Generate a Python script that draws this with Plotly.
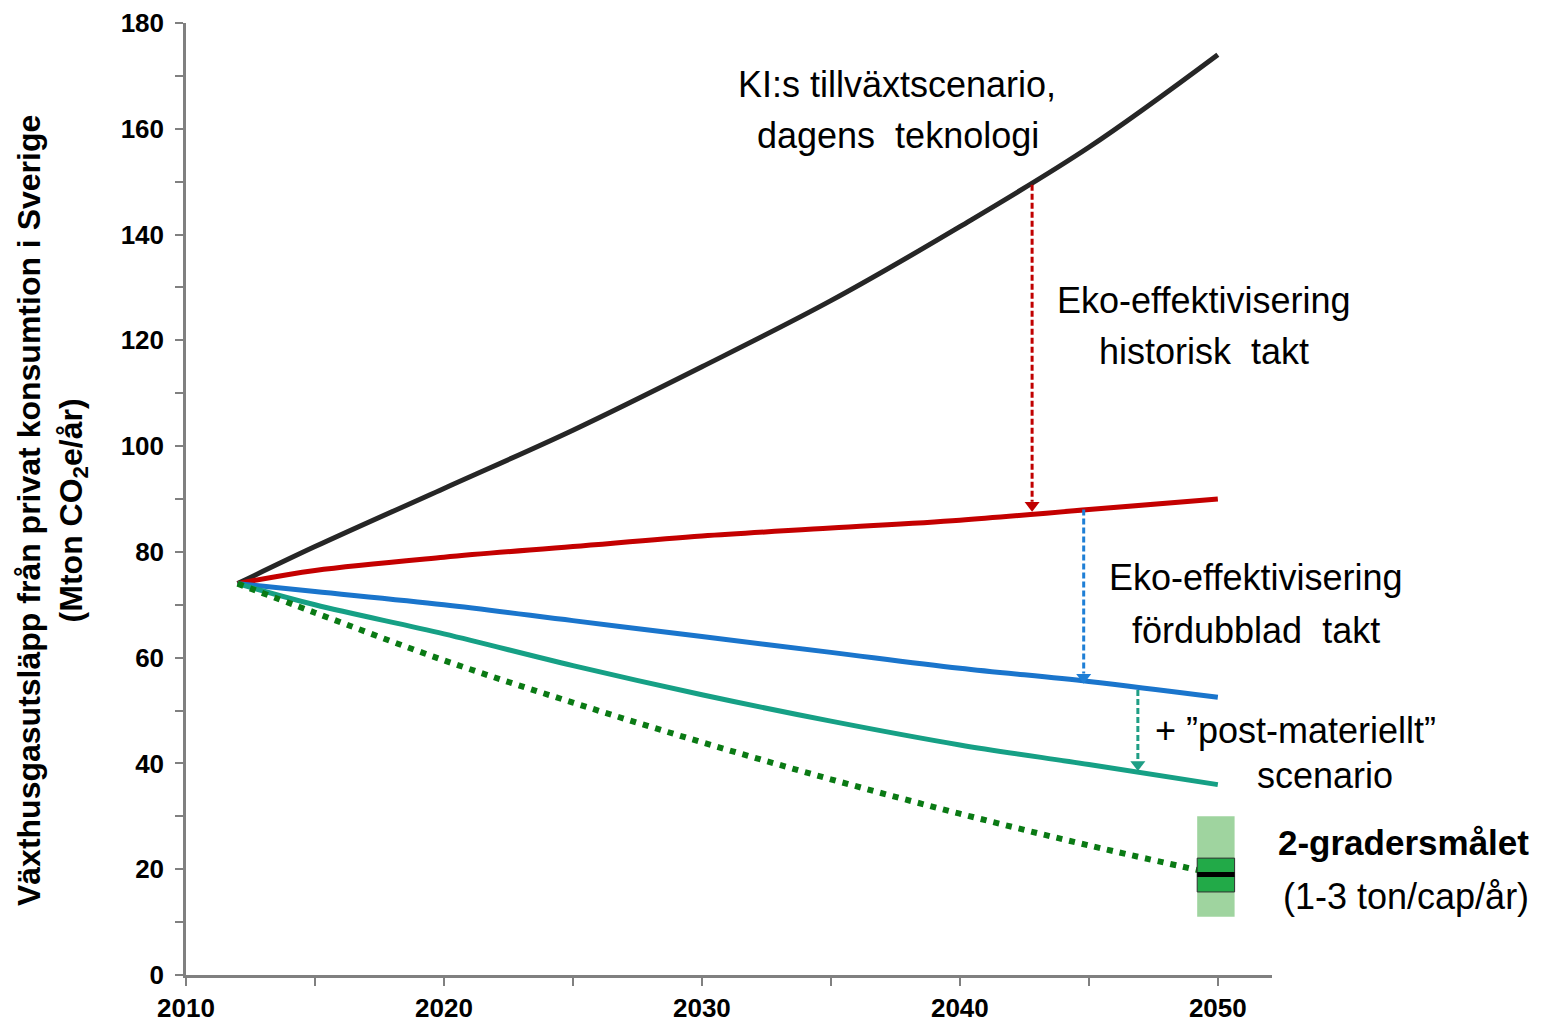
import plotly.graph_objects as go

# ---- data ----
years = [2012, 2015, 2020, 2025, 2030, 2035, 2040, 2045, 2050]
ki_growth = [74, 81, 92, 103, 115, 127.5, 141.5, 156.5, 174]
eko_hist = [74, 76.5, 79, 81, 83, 84.5, 86, 88, 90]
eko_double = [74, 72.5, 70, 67, 64, 61, 58, 55.5, 52.5]
post_material = [74, 70, 64.5, 58.5, 53, 48, 43.5, 39.8, 36]
two_degree_path = [74, 68.5, 59.5, 51.5, 44, 37, 30.5, 24.5, 19]

# arrows: x position, start value, end value
arrow_x = [2042.8, 2044.8, 2046.9]
arrow_top = [149.4, 88.0, 53.9]
arrow_bottom = [87.5, 55.0, 38.5]
arrow_colors = ["#c00000", "#1f7fd6", "#1f9e85"]

# 2-degree target box (Mton)
target_year = 2050
target_range = [11, 30]
target_inner = [15.7, 22.1]
target_mid = 19

x_ticks = [2010, 2020, 2030, 2040, 2050]
y_ticks = [0, 20, 40, 60, 80, 100, 120, 140, 160, 180]
X_RANGE = [2010, 2052.1]

FONT = "Liberation Sans, Arial, sans-serif"


def xpaper(year):
    return (year - X_RANGE[0]) / (X_RANGE[1] - X_RANGE[0])


fig = go.Figure()

fig.add_shape(type="rect", xref="x", yref="y",
              x0=target_year - 0.8, x1=target_year + 0.65,
              y0=target_range[0], y1=target_range[1],
              fillcolor="#9fd49f", line=dict(width=0), layer="above")

series = [
    (ki_growth, "#262626"),
    (eko_hist, "#c40000"),
    (eko_double, "#1a75cc"),
    (post_material, "#16a085"),
]
for vals, col in series:
    fig.add_trace(go.Scatter(x=years, y=vals, mode="lines",
                             line=dict(color=col, width=5, shape="spline", smoothing=1.0),
                             showlegend=False, hoverinfo="skip"))

fig.add_trace(go.Scatter(x=years, y=two_degree_path, mode="lines",
                         line=dict(color="#0a7a14", width=6, dash="6px,7px",
                                   shape="spline", smoothing=1.0),
                         showlegend=False, hoverinfo="skip"))

# dashed arrows
for xa, yt, yb, col in zip(arrow_x, arrow_top, arrow_bottom, arrow_colors):
    fig.add_trace(go.Scatter(x=[xa, xa], y=[yt, yb + 2], mode="lines",
                             line=dict(color=col, width=3, dash="6px,3px"),
                             showlegend=False, hoverinfo="skip"))
    fig.add_trace(go.Scatter(x=[xa], y=[yb + 1.3], mode="markers",
                             marker=dict(symbol="triangle-down", size=13, color=col),
                             showlegend=False, hoverinfo="skip"))

fig.add_shape(type="rect", xref="x", yref="y",
              x0=target_year - 0.8, x1=target_year + 0.65,
              y0=target_inner[0], y1=target_inner[1],
              fillcolor="#22aa48", line=dict(color="#333333", width=1), layer="above")
fig.add_shape(type="line", xref="x", yref="y",
              x0=target_year - 0.8, x1=target_year + 0.65,
              y0=target_mid, y1=target_mid,
              line=dict(color="black", width=5), layer="above")

# text annotations (year, value positions)
texts = [
    ("KI:s tillväxtscenario,", 2037.56, 168.3, False),
    ("dagens\u00a0 teknologi", 2037.6, 158.8, False),
    ("Eko-effektivisering", 2049.46, 127.6, False),
    ("historisk\u00a0 takt", 2049.46, 117.8, False),
    ("Eko-effektivisering", 2051.47, 75.1, False),
    ("fördubblad\u00a0 takt", 2051.47, 65.2, False),
    ("+ \u201dpost-materiellt\u201d", 2053.02, 46.3, False),
    ("scenario", 2054.15, 37.8, False),
    ("2-gradersmålet", 2057.21, 25.0, True),
    ("(1-3 ton/cap/år)", 2057.29, 14.8, False),
]
for t, x, y, b in texts:
    fig.add_annotation(x=xpaper(x), y=y, xref="paper", yref="y", text=t, showarrow=False,
                       xanchor="center", yanchor="middle",
                       font=dict(family=FONT, size=36 if not b else 35, color="black",
                                 weight="bold" if b else "normal"))

# y-axis title
fig.add_annotation(xref="paper", yref="paper", x=-0.1234, y=0.4884,
                   text="Växthusgasutsläpp från privat konsumtion i Sverige<br>(Mton CO<sub>2</sub>e/år)",
                   textangle=-90, showarrow=False, xanchor="center", yanchor="middle",
                   font=dict(family=FONT, size=32, color="black", weight="bold"))

axis_common = dict(showgrid=False, zeroline=False, showline=True, automargin=False,
                   linecolor="#808080", linewidth=2.5,
                   ticks="outside", ticklen=8, tickwidth=2, tickcolor="#808080")

fig.update_xaxes(range=X_RANGE, tickvals=x_ticks,
                 minor=dict(ticks="outside", dtick=5, tick0=2010, ticklen=8,
                            tickwidth=2, tickcolor="#808080"),
                 tickfont=dict(family=FONT, size=26, color="black", weight="bold"),
                 **axis_common)
fig.update_yaxes(range=[0, 180], tickvals=y_ticks,
                 minor=dict(ticks="outside", dtick=10, tick0=0, ticklen=8,
                            tickwidth=2, tickcolor="#808080"),
                 tickfont=dict(family=FONT, size=26, color="black", weight="bold"),
                 ticklabelstandoff=6,
                 **axis_common)

fig.update_layout(width=1537, height=1017,
                  margin=dict(l=178, r=273, t=15, b=50),
                  plot_bgcolor="white", paper_bgcolor="white",
                  font=dict(family=FONT))

fig.write_html("out.html")
